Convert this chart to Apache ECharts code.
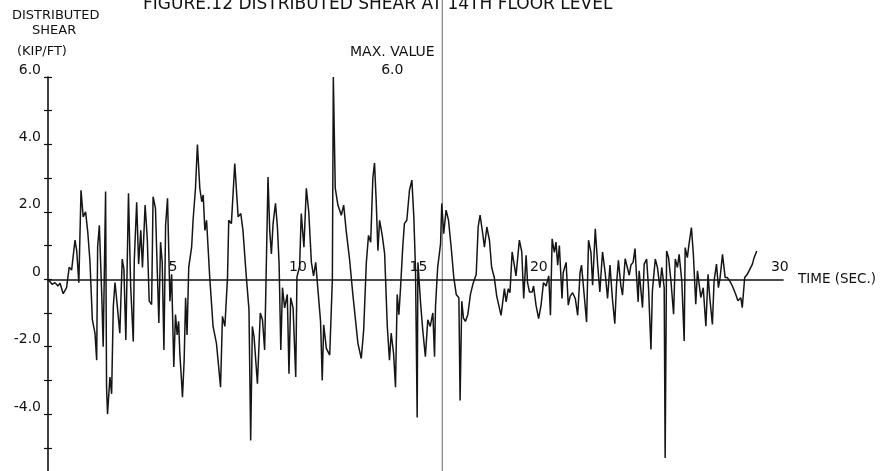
<!DOCTYPE html>
<html>
<head>
<meta charset="utf-8">
<script src="https://cdn.jsdelivr.net/npm/echarts@6/dist/echarts.min.js"></script>
<style>html,body{margin:0;padding:0;background:#fff}#c{width:891px;height:471px}</style>
</head>
<body>
<div id="c"></div>
<script>
// Time (s)
var times = [0,0.08,0.17,0.29,0.41,0.50,0.63,0.77,0.88,0.98,1.12,1.19,1.28,1.37,1.46,1.56,1.65,1.74,1.84,1.95,
2.02,2.06,2.13,2.23,2.29,2.39,2.43,2.47,2.57,2.64,2.71,2.78,2.85,2.98,3.08,3.15,3.23,3.34,3.43,3.54,
3.58,3.68,3.76,3.85,3.92,4.03,4.12,4.20,4.30,4.36,4.46,4.53,4.60,4.67,4.74,4.81,4.88,4.96,5.06,5.13,
5.22,5.29,5.36,5.42,5.47,5.54,5.58,5.65,5.71,5.77,5.84,5.96,6.02,6.12,6.20,
6.30,6.38,6.44,6.51,6.58,6.71,6.85,6.99,7.16,7.24,7.34,7.45,7.50,7.61,7.75,7.89,8.00,8.09,8.23,8.34,
8.41,8.48,8.55,8.69,8.81,8.90,8.99,9.05,9.13,9.20,9.27,9.34,9.44,9.52,9.59,9.66,9.73,9.82,9.93,10.00,
10.07,10.17,10.28,10.33,10.44,10.51,10.62,10.72,10.82,10.93,11.02,11.11,11.20,11.31,11.38,11.44,11.55,11.69,11.80,11.84,
11.92,12.03,12.17,12.27,12.38,12.52,12.65,12.86,13.00,13.10,13.21,13.30,13.39,13.48,13.55,13.62,13.69,13.76,13.87,13.97,
14.08,14.17,14.24,14.34,14.42,14.49,14.56,14.63,14.72,14.79,14.89,15.00,15.10,15.18,15.25,15.32,15.35,15.46,15.55,15.66,
15.76,15.86,15.97,16.04,16.08,16.17,16.29,16.34,16.42,16.52,16.62,16.73,16.84,16.94,17.05,17.10,17.17,17.24,17.32,17.42,
17.53,17.63,17.77,17.85,17.93,18.04,18.11,18.21,18.32,18.41,18.52,18.62,18.80,18.94,19.01,19.10,19.17,19.26,19.35,19.42,
19.56,19.66,19.74,19.84,19.90,19.98,20.09,20.15,20.25,20.36,20.46,20.56,20.67,20.78,20.85,20.92,21.01,21.08,21.15,21.22,
21.33,21.38,21.50,21.59,21.67,21.77,21.88,21.98,22.08,22.14,22.25,22.35,22.43,22.53,22.60,22.71,22.81,22.90,23.01,23.12,
23.22,23.32,23.42,23.52,23.59,23.67,23.77,23.84,23.95,24.02,24.12,24.19,24.28,24.36,24.42,24.49,24.53,24.67,24.74,24.84,
24.92,25.02,25.08,25.20,25.29,25.39,25.47,25.57,25.61,25.67,25.75,25.85,25.96,26.03,26.12,26.19,26.30,26.40,26.44,26.53,
26.60,26.70,26.78,26.88,26.95,27.02,27.09,27.19,27.30,27.39,27.46,27.57,27.64,27.74,27.82,27.89,27.99,28.10,28.19,28.29,
28.40,28.54,28.63,28.75,28.81,28.91,29.02,29.09,29.23,29.30,29.41];
// Distributed shear (kip/ft)
var shear = [0,-0.05,-0.15,-0.1,-0.2,-0.12,-0.43,-0.25,0.36,0.27,1.16,0.86,-0.1,2.64,1.85,2.0,1.4,0.55,-1.2,-1.6,
-2.4,0.96,1.6,-0.45,-2.0,2.6,-3.2,-4.0,-2.9,-3.4,-0.8,-0.1,-0.6,-1.6,0.6,0.3,-1.8,2.55,-0.2,-1.85,
0.55,2.28,0.45,1.45,0.35,2.2,1.2,-0.65,-0.75,2.45,2.1,0.35,-1.3,1.1,0.5,-2.1,1.6,2.4,-0.65,0.15,
-2.6,-1.05,-1.65,-1.25,-2.2,-3.0,-3.5,-2.4,-0.55,-1.65,0.35,0.95,1.75,2.7,4.0,
2.7,2.3,2.5,1.45,1.75,0.07,-1.4,-1.9,-3.2,-1.1,-1.4,0.07,1.75,1.65,3.43,1.85,1.95,1.45,0.07,-0.9,
-4.78,-1.4,-1.7,-3.1,-1.0,-1.2,-2.1,0.07,3.03,1.45,0.75,1.65,2.25,1.55,0.45,-2.1,-0.25,-0.85,-0.45,-2.8,
-0.55,-0.85,-2.9,0.07,0.37,1.95,0.95,2.7,2.0,0.5,0.1,0.5,-0.3,-1.25,-3.0,-1.35,-2.05,-2.25,0.0,6.0,
2.7,2.2,1.9,2.2,1.4,0.55,-0.45,-1.9,-2.35,-1.5,0.5,1.3,1.1,3.0,3.45,2.3,0.85,1.75,1.3,0.75,
-1.4,-2.4,-1.6,-2.2,-3.2,-0.45,-1.05,-0.25,0.95,1.65,1.75,2.64,2.94,1.85,0.3,-4.1,0.5,-0.7,-1.5,-2.3,
-1.2,-1.4,-1.0,-2.3,-0.8,0.35,1.05,2.25,1.35,2.05,1.75,0.95,0.05,-0.45,-0.55,-3.6,-0.65,-1.15,-1.25,-1.05,
-0.45,-0.15,0.15,1.55,1.9,1.35,0.95,1.55,1.15,0.35,0.05,-0.5,-1.07,-0.28,-0.67,-0.28,-0.4,0.81,0.42,0.1,
1.16,0.81,-0.57,0.71,-0.1,-0.38,-0.38,-0.2,-0.77,-1.17,-0.77,-0.1,-0.2,0.1,-1.07,1.2,0.8,1.1,0.42,1.0,
-0.57,0.2,0.5,-0.77,-0.5,-0.4,-0.57,-1.07,0.2,0.42,-0.47,-1.27,1.16,0.8,-0.18,1.5,0.42,-0.38,0.81,0.2,
-0.57,0.42,-0.57,-1.32,-0.18,0.56,-0.18,-0.47,0.61,0.66,0.12,0.42,0.5,0.91,0.12,-0.67,0.25,-0.84,0.45,0.6,
-0.25,-2.08,-0.35,0.6,0.35,-0.25,0.35,-0.25,-5.3,0.84,0.65,-0.05,-1.04,0.6,0.35,0.74,-0.05,-1.83,0.94,0.64,
1.04,1.53,0.74,-0.74,0.25,0.3,-0.54,-0.25,-1.39,0.15,-0.54,-1.34,-0.05,0.45,-0.25,0.05,0.74,0.05,0.05,-0.05,
-0.2,-0.45,-0.64,-0.55,-0.84,0.05,0.15,0.25,0.45,0.64,0.84];
var xLabels = [5, 10, 15, 20, 30];
var yLabels = [6, 4, 2, 0, -2, -4];
var foldLineTime = 16.36;

var data = times.map(function (t, i) { return [t, shear[i]]; });
var FONT = 'DejaVu Sans';
var chart = echarts.init(document.getElementById('c'), null, {renderer: 'canvas'});
var yCommon = {
  type: 'value', min: -6, max: 6, interval: 1, splitLine: {show: false}
};
var GRID_TOP = 77, GRID_H = 404.5;
var txt = function (s) { return {fontFamily: FONT, fontSize: s, fontWeight: 'normal', color: '#111'}; };
chart.setOption({
  animation: false,
  backgroundColor: '#fff',
  title: [
    {text: 'FIGURE.12 DISTRIBUTED SHEAR AT 14TH FLOOR LEVEL', left: 143, top: -4, padding: 0, textStyle: txt(17)},
    {text: 'DISTRIBUTED', left: 12, top: 9, padding: 0, textStyle: txt(13)},
    {text: 'SHEAR', left: 32, top: 24, padding: 0, textStyle: txt(13)},
    {text: '(KIP/FT)', left: 17, top: 45, padding: 0, textStyle: txt(13)}
  ],
  grid: {left: 48, right: 108, top: GRID_TOP, height: GRID_H, containLabel: false, outerBoundsMode: 'none'},
  xAxis: {
    type: 'value', min: 0, max: 30.5, interval: 5, position: 'bottom',
    offset: -GRID_H / 2,
    axisLine: {onZero: false, lineStyle: {color: '#111', width: 1.6}},
    axisTick: {show: false},
    splitLine: {show: false},
    axisLabel: {
      inside: true, margin: 5, align: 'left', color: '#111', fontFamily: FONT, fontSize: 14,
      formatter: function (v) { return xLabels.indexOf(v) >= 0 ? String(v) : ''; }
    },
    name: 'TIME (SEC.)', nameLocation: 'end', nameGap: 15,
    nameTextStyle: {fontFamily: FONT, fontSize: 13.5, color: '#111', verticalAlign: 'middle'}
  },
  yAxis: [
    Object.assign({}, yCommon, {
      position: 'left',
      axisLine: {show: true, onZero: false, lineStyle: {color: '#111', width: 1.6}},
      axisTick: {show: true, length: 4, lineStyle: {color: '#111', width: 1.2}},
      axisLabel: {
        color: '#111', fontFamily: FONT, fontSize: 14, margin: 7, verticalAlign: 'bottom',
        formatter: function (v) {
          if (yLabels.indexOf(v) < 0) return '';
          return v === 0 ? '0' : v.toFixed(1);
        }
      }
    }),
    Object.assign({}, yCommon, {
      position: 'left',
      axisLine: {show: false, onZero: false},
      axisTick: {show: true, inside: true, length: 4, lineStyle: {color: '#111', width: 1.2}},
      axisLabel: {show: false}
    })
  ],
  series: [{
    type: 'line',
    data: data,
    showSymbol: false,
    clip: false,
    lineStyle: {color: '#151515', width: 1.5},
    markPoint: {
      symbol: 'circle', symbolSize: 0,
      data: [{type: 'max', name: 'MAX. VALUE'}],
      label: {
        show: true, position: 'inside', offset: [59, -16],
        formatter: 'MAX. VALUE\n6.0', lineHeight: 18, align: 'center',
        fontFamily: FONT, fontSize: 14, color: '#111'
      }
    }
  }]
});
var fx = chart.convertToPixel({xAxisIndex: 0}, foldLineTime);
chart.setOption({
  graphic: [{
    type: 'line', silent: true,
    shape: {x1: fx, y1: 0, x2: fx, y2: 471},
    style: {stroke: '#666', lineWidth: 1}
  }]
});
</script>
</body>
</html>
